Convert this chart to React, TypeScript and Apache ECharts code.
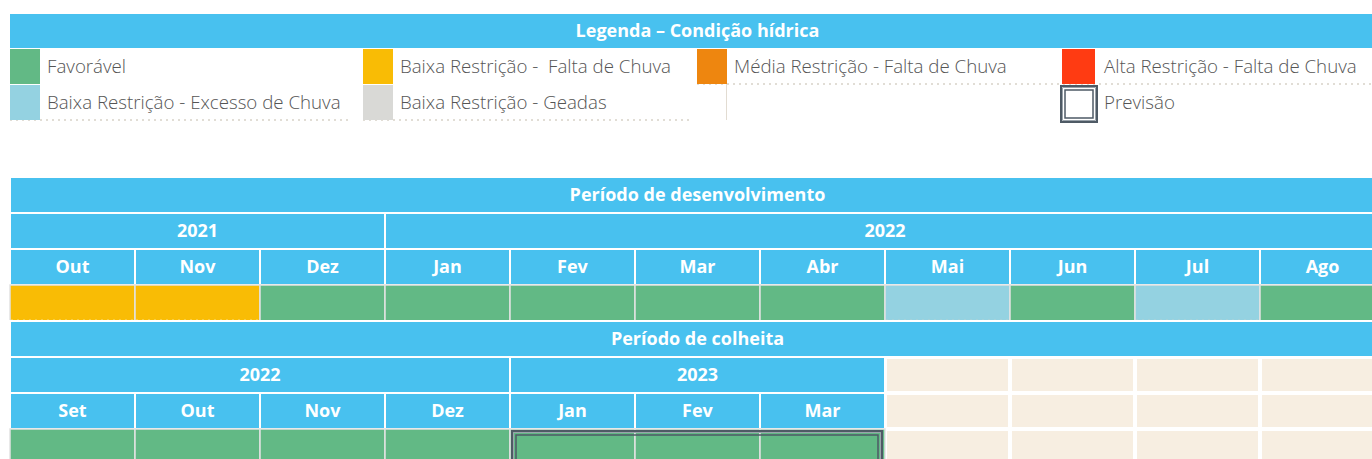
import React, { useEffect, useRef } from "react";
import * as echarts from "echarts";

// ---------- data ----------
const conditionKeys = ["fav", "baixaFalta", "mediaFalta", "altaFalta", "excesso", "geadas"];
const conditionLabels = [
  "Favorável",
  "Baixa Restrição -  Falta de Chuva",
  "Média Restrição - Falta de Chuva",
  "Alta Restrição - Falta de Chuva",
  "Baixa Restrição - Excesso de Chuva",
  "Baixa Restrição - Geadas",
];
const conditionColors = ["#62B985", "#F9BC05", "#EE860F", "#FF3B12", "#94D2E1", "#D9D9D6"];
const legendTitle = "Legenda – Condição hídrica";
const forecastLabel = "Previsão";

const devTitle = "Período de desenvolvimento";
const devYears = ["2021", "2022"];
const devYearSpans = [3, 8];
const devMonths = ["Out", "Nov", "Dez", "Jan", "Fev", "Mar", "Abr", "Mai", "Jun", "Jul", "Ago"];
const devConditions = ["baixaFalta", "baixaFalta", "fav", "fav", "fav", "fav", "fav", "excesso", "fav", "excesso", "fav"];

const harvestTitle = "Período de colheita";
const harvestYears = ["2022", "2023"];
const harvestYearSpans = [4, 3];
const harvestMonths = ["Set", "Out", "Nov", "Dez", "Jan", "Fev", "Mar"];
const harvestConditions = ["fav", "fav", "fav", "fav", "fav", "fav", "fav"];
const harvestForecastMonths = ["Jan", "Fev", "Mar"];

const totalColumns = 11;

// ---------- style ----------
const BLUE = "#48C1EF";
const BEIGE = "#F7EEE1";
const DARK = "#4E5A65";
const TEXT = "#555555";
const FONT = '"Open Sans", "Noto Sans", sans-serif';
const LEGEND_FONT = `300 18.7px ${FONT}`;

type Cell = { x0: number; x1: number; row: number; kind: string; text?: string; color?: string; cond?: string };

function buildCells(): Cell[] {
  const cells: Cell[] = [];
  // development block
  cells.push({ x0: 0, x1: totalColumns, row: 0, kind: "head", text: devTitle });
  let acc = 0;
  devYears.forEach((y, i) => {
    cells.push({ x0: acc, x1: acc + devYearSpans[i], row: 1, kind: "head", text: y });
    acc += devYearSpans[i];
  });
  devMonths.forEach((m, i) => cells.push({ x0: i, x1: i + 1, row: 2, kind: "head", text: m }));
  devConditions.forEach((c, i) =>
    cells.push({ x0: i, x1: i + 1, row: 3, kind: "cond", cond: c, color: conditionColors[conditionKeys.indexOf(c)] })
  );
  // harvest block
  cells.push({ x0: 0, x1: totalColumns, row: 4, kind: "head", text: harvestTitle });
  acc = 0;
  harvestYears.forEach((y, i) => {
    cells.push({ x0: acc, x1: acc + harvestYearSpans[i], row: 5, kind: "head", text: y });
    acc += harvestYearSpans[i];
  });
  harvestMonths.forEach((m, i) => cells.push({ x0: i, x1: i + 1, row: 6, kind: "head", text: m }));
  harvestConditions.forEach((c, i) =>
    cells.push({ x0: i, x1: i + 1, row: 7, kind: "cond", cond: c, color: conditionColors[conditionKeys.indexOf(c)] })
  );
  for (let r = 5; r <= 7; r++) {
    for (let i = harvestMonths.length; i < totalColumns; i++) {
      cells.push({ x0: i, x1: i + 1, row: r, kind: "empty" });
    }
  }
  const f0 = harvestMonths.indexOf(harvestForecastMonths[0]);
  const f1 = harvestMonths.indexOf(harvestForecastMonths[harvestForecastMonths.length - 1]) + 1;
  cells.push({ x0: f0, x1: f1, row: 7, kind: "forecast" });
  return cells;
}

function doubleBox(x: number, y: number, w: number, h: number) {
  return [
    { type: "rect", shape: { x: x + 1, y: y + 1, width: w - 2, height: h - 2 }, style: { fill: "none", stroke: DARK, lineWidth: 2 } },
    { type: "rect", shape: { x: x + 2.5, y: y + 2.5, width: w - 5, height: h - 5 }, style: { fill: "none", stroke: "#9AA3AB", lineWidth: 1 } },
    { type: "rect", shape: { x: x + 5, y: y + 5, width: w - 10, height: h - 10 }, style: { fill: "none", stroke: DARK, lineWidth: 1.5 } },
  ];
}

export default function App() {
  const ref = useRef<HTMLDivElement>(null);
  useEffect(() => {
    if (!ref.current) return;
    const chart = echarts.init(ref.current, undefined, { renderer: "svg" });
    const cells = buildCells();

    // legend graphic
    const slots = [
      { x: 10, r: 0 }, { x: 363, r: 0 }, { x: 697, r: 0 }, { x: 1062, r: 0 },
      { x: 10, r: 1 }, { x: 363, r: 1 },
    ];
    const rowTop = [48, 84];
    const legendEls: any[] = [
      { type: "rect", shape: { x: 10, y: 14, width: 1380, height: 34 }, style: { fill: BLUE } },
      {
        type: "text", x: 697.5, y: 30,
        style: { text: legendTitle, fill: "#fff", font: `bold 18px ${FONT}`, align: "center", verticalAlign: "middle" },
      },
      { type: "line", shape: { x1: 697, y1: 84, x2: 1390, y2: 84 }, style: { stroke: "#D8D2C8", lineWidth: 1.5, lineDash: [2, 4] } },
      { type: "line", shape: { x1: 10, y1: 120, x2: 350, y2: 120 }, style: { stroke: "#D8D2C8", lineWidth: 1.5, lineDash: [2, 4] } },
      { type: "line", shape: { x1: 363, y1: 120, x2: 690, y2: 120 }, style: { stroke: "#D8D2C8", lineWidth: 1.5, lineDash: [2, 4] } },
      { type: "line", shape: { x1: 726.5, y1: 84, x2: 726.5, y2: 120 }, style: { stroke: "#E2DCD2", lineWidth: 1 } },
      { type: "line", shape: { x1: 10, y1: 176.5, x2: 1390, y2: 176.5 }, style: { stroke: "#DDDDDD", lineWidth: 1 } },
    ];
    conditionLabels.forEach((label, i) => {
      const s = slots[i];
      const y = rowTop[s.r];
      legendEls.push({
        type: "rect",
        shape: { x: s.x, y: y + 1, width: i === 3 ? 33 : 30, height: 35 },
        style: { fill: conditionColors[i] },
      });
      legendEls.push({
        type: "text", x: s.x + 37 + (i === 3 ? 5 : 0), y: y + 17.5,
        style: { text: label, fill: TEXT, font: LEGEND_FONT, align: "left", verticalAlign: "middle" },
      });
    });
    legendEls.push({ type: "group", children: doubleBox(1060, 85, 38, 38) });
    legendEls.push({
      type: "text", x: 1104, y: 101.5,
      style: { text: forecastLabel, fill: TEXT, font: LEGEND_FONT, align: "left", verticalAlign: "middle" },
    });

    const option: any = {
      animation: false,
      grid: { left: 10, top: 177, width: 1375, height: 288, containLabel: false },
      xAxis: { type: "value", min: 0, max: totalColumns, show: false },
      yAxis: { type: "value", min: 0, max: 8, inverse: true, show: false },
      graphic: { elements: legendEls },
      series: [
        {
          type: "custom",
          clip: false,
          encode: { x: [0, 1], y: [2, 3] },
          data: cells.map((c) => [c.x0, c.x1, c.row, c.row + 1]),
          renderItem: (params: any, api: any) => {
            const c = cells[params.dataIndex];
            const p0 = api.coord([api.value(0), api.value(2)]);
            const p1 = api.coord([api.value(1), api.value(3)]);
            const x = p0[0], y = p0[1], w = p1[0] - p0[0], h = p1[1] - p0[1];
            if (c.kind === "head") {
              return {
                type: "group",
                children: [
                  { type: "rect", shape: { x, y, width: w, height: h }, style: { fill: BLUE, stroke: "#fff", lineWidth: 2 } },
                  {
                    type: "text",
                    style: {
                      x: x + w / 2, y: y + h / 2 - 1.5, text: c.text, fill: "#fff",
                      font: `bold 18px ${FONT}`, align: "center", verticalAlign: "middle",
                    },
                  },
                ],
              };
            }
            if (c.kind === "cond") {
              const children: any[] = [
                { type: "rect", shape: { x, y, width: w, height: h }, style: { fill: c.color, stroke: "#E2E2E2", lineWidth: 1.5 } },
              ];
              if (c.cond !== "fav") {
                children.push({
                  type: "line",
                  shape: { x1: x + 1, y1: y + h - 0.5, x2: x + w - 1, y2: y + h - 0.5 },
                  style: { stroke: c.cond === "baixaFalta" ? "#FFFFFF" : "#D8D2C8", lineWidth: 1.5, lineDash: [2, 4] },
                });
              }
              return { type: "group", children };
            }
            if (c.kind === "empty") {
              return { type: "rect", shape: { x: x + 2, y: y + 2, width: w - 4, height: h - 4 }, style: { fill: BEIGE } };
            }
            // forecast double border
            return { type: "group", children: doubleBox(x + 1, y + 1, w - 3, h + 10) };
          },
        },
      ],
    };
    chart.setOption(option);
    return () => chart.dispose();
  }, []);
  return (
    <div style={{ position: "absolute", left: 0, top: 0, width: 1372, height: 459, overflow: "hidden", background: "#fff" }}>
      <div ref={ref} style={{ position: "absolute", left: 0, top: 0, width: 1400, height: 480 }} />
    </div>
  );
}
